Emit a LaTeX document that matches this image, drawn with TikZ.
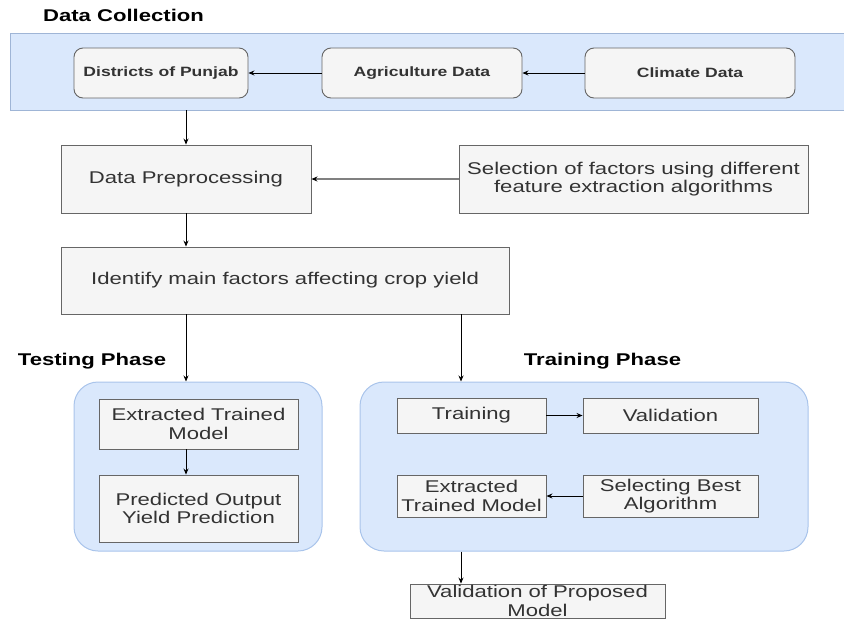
\documentclass[tikz,border=0pt]{standalone}
\usepackage{fontspec}
\setmainfont{Liberation Sans}[FakeStretch=1.3]
\usetikzlibrary{arrows.meta,positioning}
\definecolor{bandfill}{HTML}{DAE8FC}
\definecolor{bandline}{HTML}{9FB5D6}
\definecolor{phaseline}{HTML}{A9C4EB}
\definecolor{boxfill}{HTML}{F5F5F5}
\definecolor{boxline}{HTML}{666666}
\definecolor{boxtext}{HTML}{333333}
\definecolor{greyarrow}{HTML}{808080}
\tikzset{
  plainbox/.style={draw=boxline, fill=boxfill, line width=0.9pt, inner sep=0pt, align=center,
    text=boxtext, font=\fontsize{17}{18.5}\selectfont},
  topbox/.style={plainbox, rounded corners=9pt, font=\bfseries\fontsize{13.5}{15}\selectfont},
  phase/.style={draw=phaseline, fill=bandfill, line width=1pt, rounded corners=24pt, inner sep=0pt},
  bandbox/.style={draw=bandline, fill=bandfill, line width=0.9pt, inner sep=0pt},
  ttl/.style={font=\bfseries\fontsize{17}{19}\selectfont, text=black, inner sep=0pt},
  conn/.style={draw=black, line width=0.8pt, -{Stealth[length=6pt,width=5pt]}},
  greyconn/.style={draw=greyarrow, line width=1.4pt, -{Stealth[length=6pt,width=5pt,black]}}
}
\begin{document}
\begin{tikzpicture}[x=1pt,y=-1pt]
\useasboundingbox (0,0) rectangle (844,619);
% Data collection
\node[ttl] (tdc) at (123.5,15) {Data Collection};
\node[bandbox, minimum width=840pt, minimum height=77pt] (band) at (430,71.5) {};
\node[topbox, minimum width=174pt, minimum height=50pt] (dist) at (161,73) {Districts of Punjab};
\node[topbox, minimum width=200pt, minimum height=50pt] (agri) at (422,73) {Agriculture Data};
\node[topbox, minimum width=210pt, minimum height=50pt] (clim) at (690,73) {Climate Data};
% preprocessing
\node[plainbox, minimum width=250pt, minimum height=68pt] (prep) at (186,179) {Data Preprocessing};
\node[plainbox, minimum width=349pt, minimum height=68pt] (sel) at (633.5,179) {Selection of factors using different\\feature extraction algorithms};
\node[plainbox, minimum width=448pt, minimum height=67pt] (ident) at (285,280.5) {Identify main factors affecting crop yield};
% phase titles
\node[ttl] (ttest) at (92,361) {Testing Phase};
\node[ttl] (ttrain) at (602.5,361) {Training Phase};
% testing phase
\node[phase, minimum width=248pt, minimum height=169pt] (testc) at (198,466.5) {};
\node[plainbox, minimum width=199pt, minimum height=50pt] (ext1) at (198.5,424) {Extracted Trained\\Model};
\node[plainbox, minimum width=199pt, minimum height=67pt] (pred) at (198.5,508.5) {Predicted Output\\Yield Prediction};
% training phase
\node[phase, minimum width=448pt, minimum height=169pt] (trainc) at (584,466.5) {};
\node[plainbox, minimum width=149pt, minimum height=35pt] (train) at (471.5,415.5) {Training};
\node[plainbox, minimum width=175pt, minimum height=35pt] (valid) at (670.5,415.5) {Validation};
\node[plainbox, minimum width=149pt, minimum height=42pt] (ext2) at (471.5,496) {Extracted\\Trained Model};
\node[plainbox, minimum width=175pt, minimum height=42pt] (selb) at (670.5,496) {Selecting Best\\Algorithm};
\node[plainbox, minimum width=255pt, minimum height=34pt] (valp) at (537.5,601) {Validation of Proposed\\Model};
% helper coordinates
\coordinate (lx) at (186,0);
\coordinate (rx) at (461,0);
% connectors
\draw[conn] (clim.west) -- (agri.east);
\draw[conn] (agri.west) -- (dist.east);
\draw[conn] (band.south -| lx) -- (prep.north -| lx);
\draw[greyconn] (sel.west) -- (prep.east);
\draw[conn] (prep.south -| lx) -- (ident.north -| lx);
\draw[conn] (ident.south -| lx) -- (testc.north -| lx);
\draw[conn] (ident.south -| rx) -- (trainc.north -| rx);
\draw[conn] (ext1.south -| lx) -- (pred.north -| lx);
\draw[conn] (train.east) -- (valid.west);
\draw[conn] (selb.west) -- (ext2.east);
\draw[conn] (trainc.south -| rx) -- (valp.north -| rx);
\end{tikzpicture}
\end{document}
